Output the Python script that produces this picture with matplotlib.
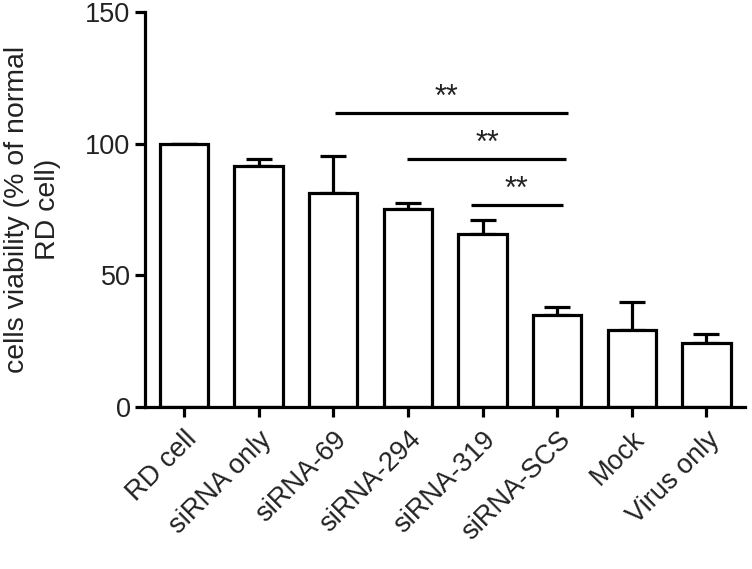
import matplotlib.pyplot as plt

plt.rcParams['font.family'] = ['Liberation Sans', 'DejaVu Sans']

groups = ["RD cell", "siRNA only", "siRNA-69", "siRNA-294", "siRNA-319",
          "siRNA-SCS", "Mock", "Virus only"]
viability = [100, 91.6, 81.4, 75.0, 65.7, 34.7, 29.2, 24.3]
err_up = [0, 2.7, 13.7, 2.3, 5.3, 3.1, 10.5, 3.3]

# significance brackets: (x start, x end, y of line, label)
sig_x0 = [2.02, 2.99, 3.84]
sig_x1 = [5.15, 5.12, 5.08]
sig_y = [111.5, 94.0, 76.6]
sig_text_x = [3.52, 4.06, 4.46]
sig_label = ["**", "**", "**"]

fig = plt.figure(figsize=(7.52, 5.69), dpi=100)
ax = fig.add_axes([0.193, 0.285, 0.798, 0.694])

x = list(range(len(groups)))
lw = 2.3
ax.bar(x, viability, width=0.65, color="white", edgecolor="black",
       linewidth=lw, zorder=2)
ax.errorbar(x, viability, yerr=[[0] * len(err_up), err_up], fmt="none",
            ecolor="black", elinewidth=lw, capsize=9.5, capthick=lw, zorder=1)

for x0, x1, y, lab, tx in zip(sig_x0, sig_x1, sig_y, sig_label, sig_text_x):
    ax.plot([x0, x1], [y, y], color="black", lw=lw, solid_capstyle="butt")
    ax.text(tx, y + 2.8, lab, ha="center", va="baseline", fontsize=22,
            color="#222222")

ax.set_xlim(-0.52, 7.52)
ax.set_ylim(0, 150)
ax.set_yticks([0, 50, 100, 150])
ax.set_xticks(x)
ax.set_xticklabels(groups, rotation=45, ha="right", rotation_mode="anchor")

for side in ["top", "right"]:
    ax.spines[side].set_visible(False)
for side in ["left", "bottom"]:
    ax.spines[side].set_linewidth(lw)

ax.tick_params(axis="both", width=lw, length=7, labelsize=19.5,
               labelcolor="#222222", direction="out")
ax.tick_params(axis="x", pad=7)
ax.set_ylabel("cells viability (% of normal\nRD cell)", fontsize=20.5,
              color="#222222", linespacing=1.25)
ax.yaxis.set_label_coords(-0.14, 0.5)

fig.savefig("out.png", dpi=100)
